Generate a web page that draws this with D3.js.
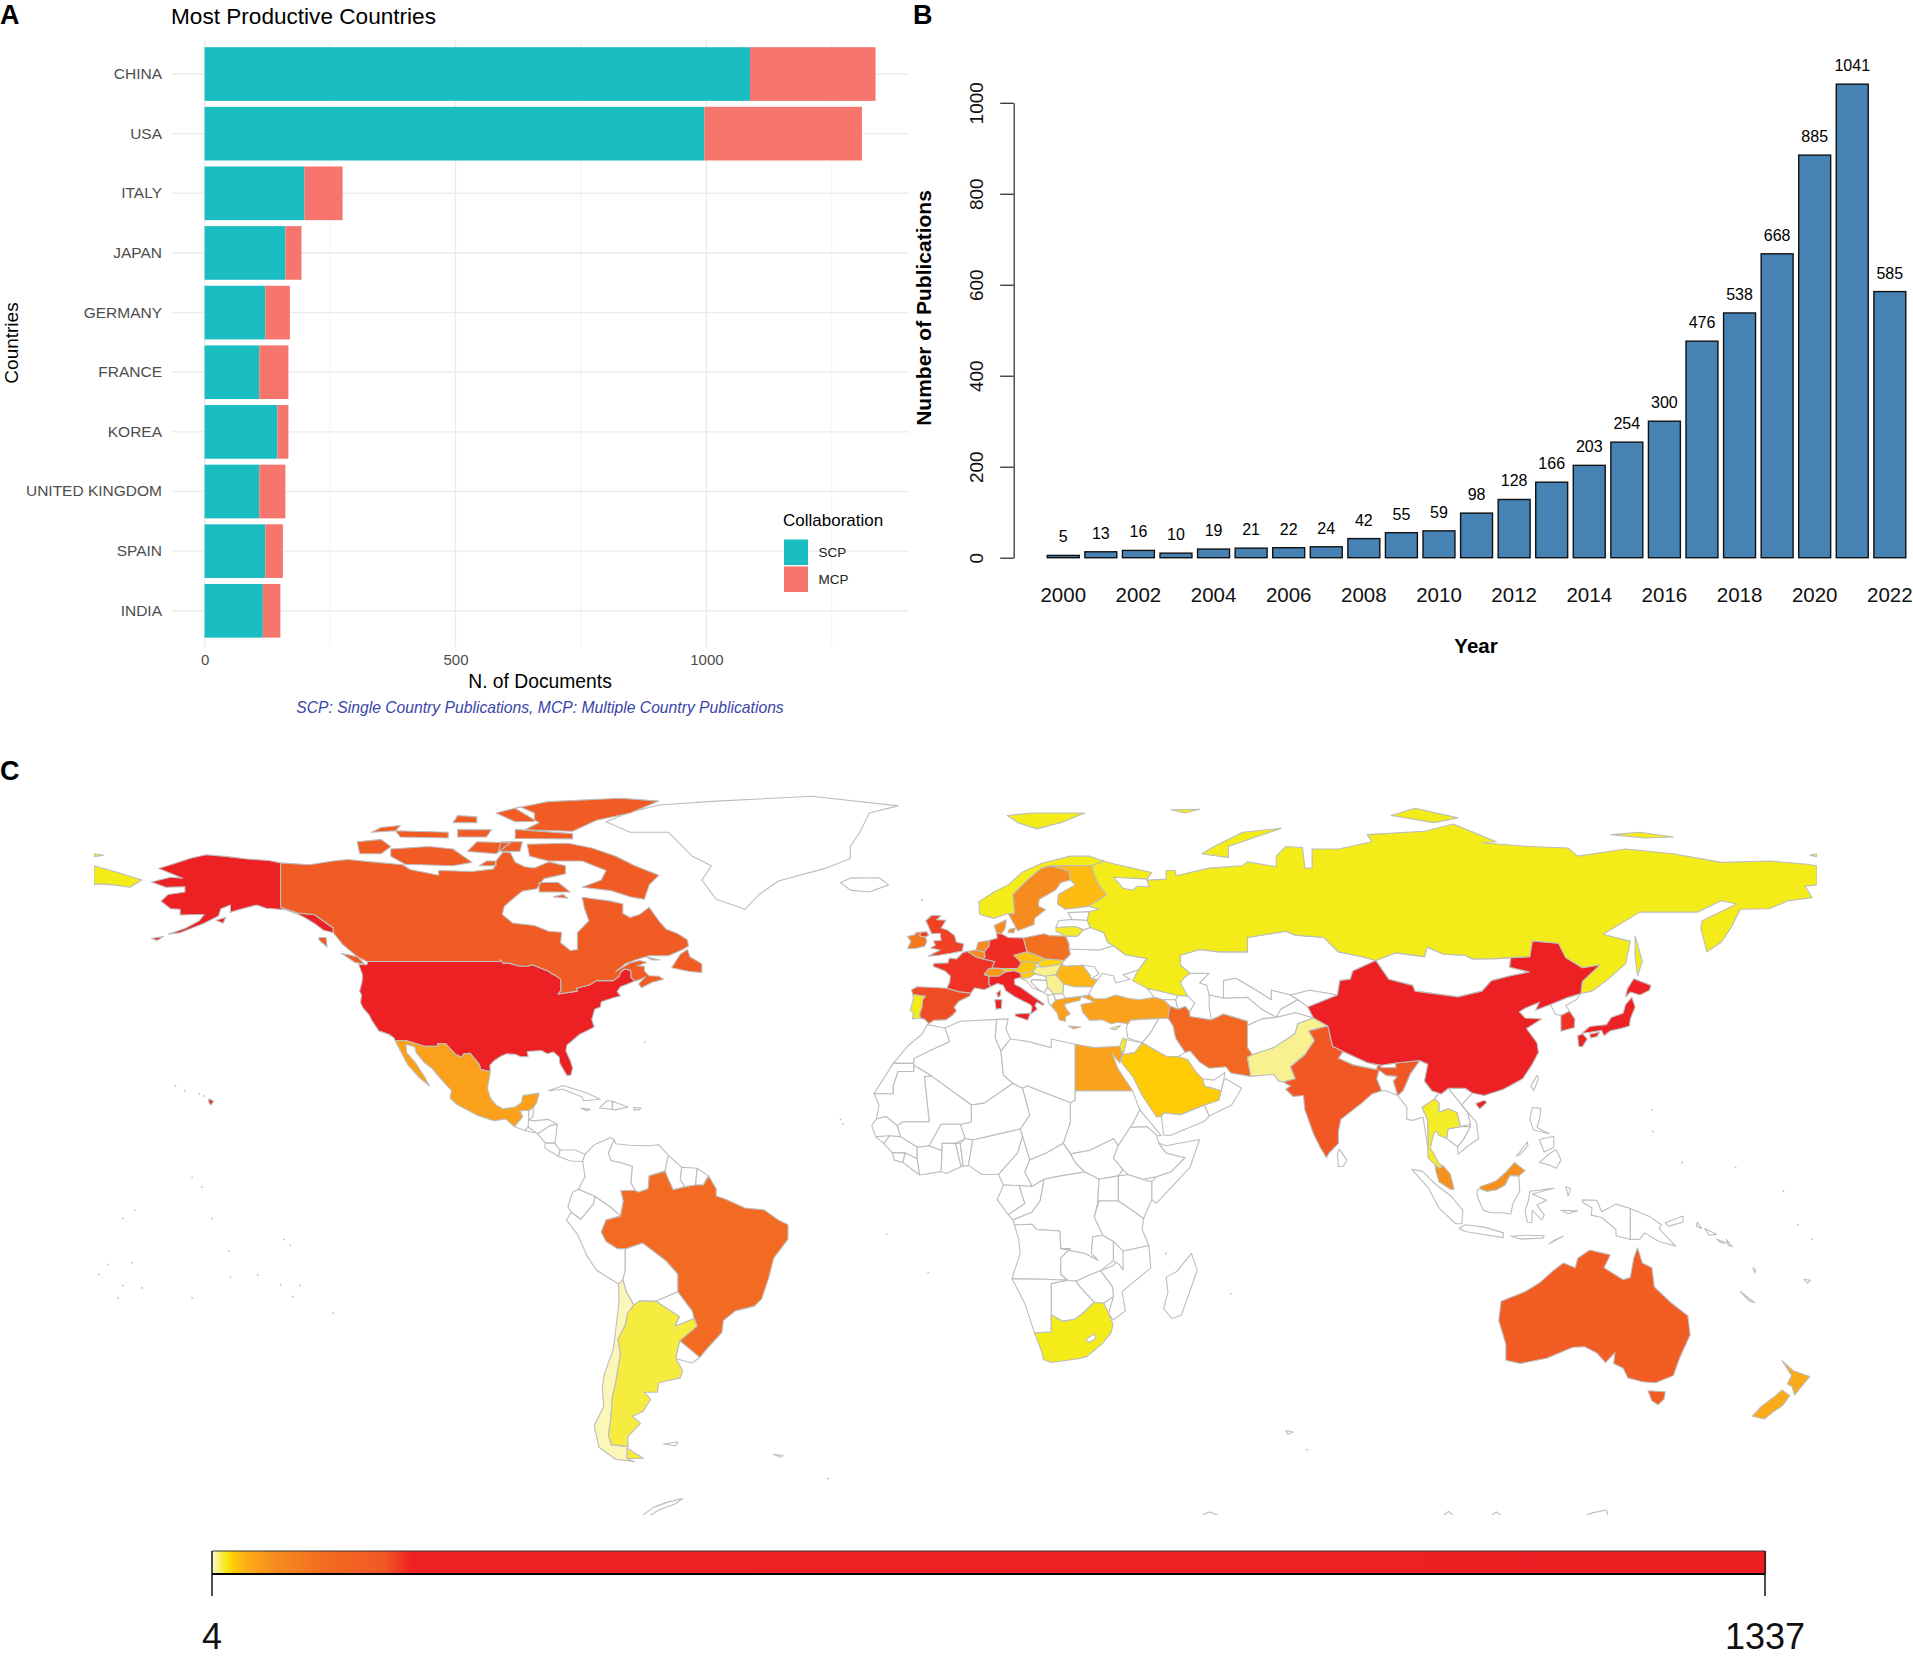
<!DOCTYPE html>
<html>
<head>
<meta charset="utf-8">
<script src="https://cdn.jsdelivr.net/npm/d3@7"></script>
<style>
  body { margin: 0; background: #fff; }
  svg { display: block; font-family: "Liberation Sans", Arial, sans-serif; }
</style>
</head>
<body>
<svg id="fig" width="1913" height="1657"></svg>
<script>
// panel A
const countries = ["CHINA","USA","ITALY","JAPAN","GERMANY","FRANCE","KOREA","UNITED KINGDOM","SPAIN","INDIA"];
const scpDocs = [1087,996,199,161,121,109,145,109,121,116];
const mcpDocs = [250,314,76,32,49,58,22,52,35,35];

// panel B
const years = d3.range(2000, 2023);
const pubs = [5,13,16,10,19,21,22,24,42,55,59,98,128,166,203,254,300,476,538,668,885,1041,585];

// panel C, documents per country
const countryValues = {
  USA:1310, China:1337, Italy:275, Japan:193, Germany:170, France:167, SouthKorea:167, UK:161, Spain:156, India:151,
  Canada:148, Australia:140, Iran:112, Brazil:105, Poland:95, Ireland:85, Netherlands:62, Belgium:60, Sweden:60, Denmark:58,
  Malaysia:55, Switzerland:50, Mexico:42, Turkey:40, Egypt:40, Greece:42, NewZealand:36, Romania:30, Finland:28, Czechia:26,
  Austria:24, SaudiArabia:22, Slovenia:22, Slovakia:20, Norway:15, Russia:15, SouthAfrica:15, Portugal:15, Thailand:14, Lithuania:14,
  Israel:14, Argentina:12, Pakistan:8, Hungary:8, Serbia:8, Cyprus:8, Chile:5
};
const rampValues = [4,8,12,15,22,30,40,60,95,115,150,175,1337];
const rampColors = ["#fdf7c5","#f8f18f","#f5ec3f","#f3ec19","#ffcb05","#fdb515","#faa21b","#f68b1f","#f37021","#f26522","#f15a24","#ee2224","#ed2024"];

// rough country outlines, lon/lat rings
const countryShapes = {
  Greenland:[[[-73,78.2],[-68,76],[-60,76],[-55,71],[-51,69],[-53,66],[-50,62],[-44,59.9],[-41,63],[-37,65.8],[-27,68.5],[-22,70.5],[-22,73],[-20,76],[-18,80],[-12,81.5],[-30,83.5],[-50,82.5],[-62,81.7],[-68,80.2]]],
  Iceland:[[[-24,65.5],[-22,66.4],[-16,66.5],[-14,65],[-18,63.5],[-22,63.9]]],
  Guatemala:[[[-92.2,14.5],[-90.5,16.5],[-91,17.8],[-89.1,17.9],[-89.2,15.9],[-88.2,15.7],[-89.3,14.4],[-90,13.7]]],
  Belize:[[[-89.1,17.9],[-88.2,18.5],[-88.3,16.5],[-89.2,15.9]]],
  Honduras:[[[-89.2,15.9],[-88.2,15.7],[-85,16],[-83.2,15],[-84.7,14.7],[-87.3,13],[-87.8,13.4],[-89.3,14.4]]],
  Salvador:[[[-90,13.7],[-89.3,14.4],[-87.8,13.4],[-88,13.2]]],
  Nicaragua:[[[-87.3,13],[-84.7,14.7],[-83.2,15],[-83.7,11],[-85.7,11.1]]],
  CostaRica:[[[-85.7,11.1],[-83.7,11],[-82.6,9.6],[-83,8.3],[-85.8,10]]],
  Panama:[[[-83,8.3],[-82.6,9.6],[-79.5,9.6],[-77.4,8.7],[-77.9,7.2],[-80.4,7.3],[-81.7,7.8]]],
  Cuba:[[[-85,22],[-82,23.1],[-77,21.5],[-74.2,20.2],[-77.7,19.9],[-78,20.7],[-82,22.3]]],
  Haiti:[[[-74.4,18.4],[-72.8,19.9],[-71.7,19.8],[-71.7,18.1]]],
  Dominican:[[[-71.7,19.8],[-68.4,18.6],[-71,18],[-71.7,18.1]]],
  Jamaica:[[[-78.3,18.4],[-76.3,18.1],[-77,17.8]]],
  PuertoRico:[[[-67.2,18.5],[-65.7,18.4],[-66,18],[-67.2,18]]],
  Colombia:[[[-77.9,7.2],[-77.4,8.7],[-75.5,10.7],[-72,12.2],[-71.3,11.8],[-72.5,9],[-72,7.4],[-70,7],[-67.5,6.2],[-67.8,2.8],[-67,1.2],[-69.9,1.1],[-69.4,-1],[-70,-4.2],[-72,-2.4],[-75.3,-0.1],[-78.8,1.4],[-77.4,4]]],
  Venezuela:[[[-71.3,11.8],[-71,10.9],[-68,10.6],[-64,10.5],[-62,10.7],[-60,8.5],[-60.7,5.2],[-64,4.2],[-64.2,1.5],[-66.3,0.8],[-67,1.2],[-67.8,2.8],[-67.5,6.2],[-70,7],[-72,7.4],[-72.5,9]]],
  Guyana:[[[-60,8.5],[-57.2,6],[-57.5,3.4],[-56.5,1.9],[-59,1.3],[-60,3.5],[-60.7,5.2]]],
  Suriname:[[[-57.2,6],[-54,5.8],[-54.3,2.3],[-56.5,1.9],[-57.5,3.4]]],
  FrGuiana:[[[-54,5.8],[-51.6,4.2],[-52.7,2.3],[-54.3,2.3]]],
  Ecuador:[[[-78.8,1.4],[-75.3,-0.1],[-75.6,-1.6],[-78.3,-4.9],[-80.3,-3.4],[-81,-2.2],[-80,0.8]]],
  Peru:[[[-80.3,-3.4],[-78.3,-4.9],[-75.6,-1.6],[-75.3,-0.1],[-72,-2.4],[-70,-4.2],[-73,-5],[-74,-7.5],[-73,-9.5],[-70.6,-11],[-69,-11],[-69,-15.5],[-69.5,-17.5],[-70.4,-18.4],[-75,-15.5],[-77,-12.5],[-79,-8],[-81.3,-5]]],
  Bolivia:[[[-69,-11],[-65.4,-9.8],[-60.5,-13.5],[-58,-16.3],[-58,-20],[-62.6,-22],[-66,-21.9],[-67.2,-22.8],[-68.8,-20],[-69.5,-17.5],[-69,-15.5]]],
  Paraguay:[[[-58,-20],[-55,-24],[-54.6,-25.6],[-58.6,-27.2],[-57.7,-25.2],[-62.6,-22]]],
  Uruguay:[[[-58.4,-33.5],[-57.6,-30.2],[-53.4,-33.7],[-55,-34.9],[-58.4,-34]]],
  Falklands:[[[-61,-51.8],[-58,-51.4],[-58.5,-52.2]]],
  SouthGeorgia:[[[-38,-54],[-36,-54.2],[-36.5,-54.6]]],
  Antarctica:[[[-57,-63.2],[-60,-63.9],[-63,-65],[-66.5,-67.5],[-65,-67.5],[-62,-65.6],[-58.5,-64.3]],[[50,-67.5],[53,-66],[57,-67.5]],[[101,-67.5],[103,-65.9],[105,-67.5]],[[111,-67.5],[113,-66],[115,-67.5]],[[130,-67.5],[133,-66.2],[136,-65.6],[136.5,-67.5]]],
  Morocco:[[[-5.9,35.8],[-2.2,35.1],[-1.2,32.2],[-5,30.5],[-8.7,28.7],[-8.7,27.7],[-13,27.7],[-9.8,31.5],[-7,33.8]]],
  WSahara:[[[-8.7,27.7],[-13,27.7],[-17,21.4],[-13,21.3],[-13,23],[-12,26],[-8.7,26]]],
  Algeria:[[[-2.2,35.1],[1,36.5],[8.6,36.9],[8.3,33],[9.5,30.3],[10,25.3],[12,23.5],[6,19.4],[3.3,19],[-4.9,25],[-8.7,27.3],[-8.7,28.7],[-5,30.5],[-1.2,32.2]]],
  Tunisia:[[[8.6,36.9],[11,37],[10.5,35],[11.5,32.8],[9.5,30.3],[8.3,33]]],
  Libya:[[[11.5,32.8],[15,32.3],[20,31],[20,32.8],[25,31.7],[25,20],[24,19.5],[15,23],[14,22.5],[12,23.5],[10,25.3],[9.5,30.3]]],
  Sudan:[[[25,22],[37,22],[38.5,18],[37,15],[36.5,14.3],[34,10.5],[33,12],[32.5,11.7],[28,9.5],[24,8.8],[22.5,11],[24,15.5],[24,19.5],[25,20]]],
  SouthSudan:[[[24,8.8],[28,9.5],[32.5,11.7],[33,12],[34,10.5],[33,7.9],[35,5.5],[34,4.2],[30,3.5],[27,5],[25,7]]],
  Eritrea:[[[37,15],[38.5,18],[43,12.6],[42,12.7],[40,14.5],[36.5,14.3]]],
  Ethiopia:[[[36.5,14.3],[40,14.5],[42,12.7],[42.5,11],[44,9],[48,8],[45,5],[42,4],[39,3.5],[36,4.5],[35,5.5],[33,7.9],[34,10.5]]],
  Somalia:[[[42.5,11],[44,10.5],[51,11.8],[49,6],[42,-1.5],[41,-0.8],[41,3],[42,4],[45,5],[48,8],[44,9]]],
  Chad:[[[15,23],[24,19.5],[24,15.5],[22.5,11],[19,9],[15.5,7.5],[14,12.5],[13.5,14],[15.5,16.9],[14,22.5]]],
  Niger:[[[12,23.5],[14,22.5],[15.5,16.9],[13.5,14],[11,13.4],[3.6,11.7],[2,12],[1,15],[3.3,15.4],[3.3,19],[6,19.4]]],
  Mali:[[[-12.2,14.7],[-11,15.5],[-5.5,15.5],[-6.5,25],[-4.9,25],[3.3,19],[3.3,15.4],[1,15],[-3,15],[-5.5,10.5],[-8,10.2],[-11.5,12.4]]],
  Mauritania:[[[-17,21.4],[-13,21.3],[-13,23],[-12,26],[-8.7,26],[-8.7,27.3],[-4.9,25],[-6.5,25],[-5.5,15.5],[-11,15.5],[-12.2,14.7],[-14.5,16.6],[-16.5,16.1],[-16,19]]],
  Senegal:[[[-16.5,16.1],[-14.5,16.6],[-12.2,14.7],[-11.5,12.4],[-16.7,12.4],[-17.5,14.7]]],
  GuineaBissau:[[[-16.7,12.4],[-13.7,12.6],[-15,11]]],
  Guinea:[[[-15,11],[-13.7,12.6],[-11.5,12.4],[-8,10.2],[-8,7.8],[-10.5,9],[-13.2,9]]],
  SierraLeone:[[[-13.2,9],[-10.5,9],[-11,7],[-12.8,7.5]]],
  Liberia:[[[-11,7],[-10.5,9],[-8,7.8],[-7.5,4.4]]],
  IvoryCoast:[[[-8,10.2],[-5.5,10.5],[-2.8,9.5],[-3,5.1],[-7.5,4.4],[-8,7.8]]],
  Burkina:[[[-5.5,10.5],[-3,15],[1,15],[2,12],[0,11],[-2.8,11],[-2.8,9.5]]],
  Ghana:[[[-2.8,11],[0,11],[1.2,6.1],[-2,4.7],[-3,5.1],[-2.8,9.5]]],
  Togo:[[[0,11],[1,11],[1.6,6.2],[1.2,6.1]]],
  Benin:[[[1,11],[2,12],[3.6,11.7],[2.7,6.4],[1.6,6.2]]],
  Nigeria:[[[2.7,6.4],[3.6,11.7],[11,13.4],[13.5,14],[14,12.5],[13,9],[9,4.5],[5.5,4.5]]],
  Cameroon:[[[9,4.5],[13,9],[14,12.5],[15.5,7.5],[14.5,5],[16,2],[10,2.3]]],
  CAR:[[[15.5,7.5],[19,9],[22.5,11],[24,8.8],[25,7],[27,5],[22,4.2],[18.5,3.5],[16,2],[14.5,5]]],
  Gabon:[[[9.5,1],[10,2.3],[13.3,2.2],[14.5,-1.6],[11,-3.9],[8.7,-0.7]]],
  Congo:[[[13.3,2.2],[16,2],[18.5,3.5],[17.7,-1],[16,-3.4],[12,-5],[11,-3.9],[14.5,-1.6]]],
  DRC:[[[18.5,3.5],[22,4.2],[27,5],[30,3.5],[29.7,-1.4],[29,-4.4],[30.8,-8.2],[28.7,-8.5],[28.4,-12],[29.8,-13.4],[27,-12],[22,-11],[21.8,-7.3],[17,-7],[16,-5.9],[12.3,-6],[12,-5],[16,-3.4],[17.7,-1]]],
  Angola:[[[12.3,-6],[16,-5.9],[17,-7],[21.8,-7.3],[22,-11],[24,-11],[22,-13],[22,-16.3],[23.4,-17.6],[18.5,-17.4],[11.8,-17.3],[13.5,-12],[13.2,-9]]],
  Zambia:[[[22,-11],[27,-12],[29.8,-13.4],[28.4,-12],[28.7,-8.5],[30.8,-8.2],[33,-9.5],[33,-13.5],[30.3,-15.6],[28,-16.5],[25.2,-17.8],[23.4,-17.6],[22,-16.3],[22,-13],[24,-11]]],
  Tanzania:[[[30,-1],[34,-1],[37.7,-3.5],[39.3,-4.7],[39,-7],[40.4,-10.4],[35,-11.5],[33,-9.5],[30.8,-8.2],[29,-4.4]]],
  Kenya:[[[34,4.2],[36,4.5],[39,3.5],[41,3],[41,-0.8],[39.3,-4.7],[37.7,-3.5],[34,-1]]],
  Uganda:[[[30,3.5],[34,4.2],[34,-1],[30,-1],[29.7,-1.4]]],
  Mozambique:[[[40.4,-10.4],[40.8,-15],[36,-19],[34.8,-20],[35.5,-24],[32.9,-25.9],[32,-24.5],[33,-21],[32.8,-19],[30.3,-15.6],[33,-14.5],[35,-11.5]]],
  Malawi:[[[33,-9.5],[35,-11.5],[35,-15.5],[34.3,-14.4],[33,-13.5]]],
  Zimbabwe:[[[25.2,-17.8],[28,-16.5],[30.3,-15.6],[32.8,-19],[33,-21],[31,-22.4],[29,-22.2],[26,-19]]],
  Botswana:[[[20,-18.3],[23.4,-17.6],[25.2,-17.8],[26,-19],[29,-22.2],[26.5,-24.6],[25,-25.7],[22.5,-26.2],[20,-24.8],[20,-22]]],
  Namibia:[[[11.8,-17.3],[18.5,-17.4],[23.4,-17.6],[20,-18.3],[20,-24.8],[20,-28.4],[16.5,-28.6],[14.5,-22.5]]],
  Madagascar:[[[49.3,-12],[50.5,-15.5],[47.2,-24.9],[45.2,-25.6],[43.5,-23.5],[44.4,-20],[44,-17],[46.3,-15.7]]],
  Ukraine:[[[22.1,48.4],[22.7,49.2],[24,50.5],[23.7,51.6],[30,51.4],[33,52.3],[35.5,50.4],[40,49.6],[38.2,47.2],[35,46.2],[36.5,45.3],[33.5,44.5],[33,46],[30.7,46.5],[29.7,45.2],[28.2,45.4],[28.2,46],[26.6,48.2],[23,48]]],
  Moldova:[[[26.6,48.2],[29,47.9],[30,46.4],[28.2,45.4],[28.2,46]]],
  Belarus:[[[23.7,51.6],[23.7,52.6],[23,54.3],[25.5,54.3],[26.7,55.6],[28.2,56.1],[31,55],[31.8,53],[33,52.3],[30,51.4]]],
  Latvia:[[[21,56.1],[21.5,57.5],[24.3,57.8],[27.5,57.6],[28.2,56.1],[26.7,55.6],[25,56.3]]],
  Estonia:[[[23.5,59.2],[28,59.4],[27.5,57.6],[24.3,57.8]]],
  Croatia:[[[13.7,45.5],[15.3,45.6],[16.6,46.4],[18.8,45.9],[19,45],[16,45.2],[15.8,44.7],[17.5,43],[18.5,42.5],[16,43.5],[14.8,45],[14.2,45.2]]],
  Bosnia:[[[16,45.2],[19,45],[19.3,43.6],[18.5,42.5],[17.5,43],[15.8,44.7]]],
  Montenegro:[[[19.3,43.6],[20.5,42.2],[19.3,41.9],[18.5,42.5]]],
  Albania:[[[19.3,41.9],[20.5,42.2],[20.9,40.9],[20,39.7],[19.4,40.4]]],
  Macedonia:[[[20.5,42.2],[22.4,42.3],[23,41.3],[20.9,40.9]]],
  Bulgaria:[[[22.6,44.3],[25,43.7],[28.6,43.7],[27.8,42],[26.3,41.7],[23,41.3],[22.4,42.3]]],
  Iraq:[[[42.4,37.1],[44.4,37.2],[45.5,35.5],[46,33],[48,30],[46.5,29.1],[44,29.2],[39,32],[41,34.5]]],
  Syria:[[[36,36],[36.7,36.8],[42.4,37.1],[41,34.5],[39,32],[36,33],[35.7,35]]],
  Jordan:[[[35.7,32.7],[39,32],[37.5,30],[35,29.5],[35.5,31.5]]],
  Yemen:[[[43,16.6],[43.5,12.7],[45,12.7],[52,15.6],[53,16.7],[52,19],[47,17],[43.5,17.4]]],
  Oman:[[[55.5,22],[55,20],[52,19],[53,16.7],[57.7,19],[59.8,22.5],[56.5,24.5],[56,24]]],
  UAE:[[[51.6,24.5],[52,23],[55.5,22],[56,24],[56.3,25.8],[54,24.2]]],
  Kazakhstan:[[[47,50.3],[51,51.5],[55,51],[61,51],[61,54],[69,55.3],[71,54.5],[77,54],[80,51],[85,50],[87.8,49.2],[83,47],[82.5,45.3],[80.3,45],[79.8,42],[74,43],[70,42],[66,43],[66,41],[62,43.5],[58.5,45.5],[56,45],[56,41.3],[53,42],[52.5,44],[51,44.5],[53,46.5],[49,46.5],[47,48.2]]],
  Uzbekistan:[[[56,45],[58.5,45.5],[62,43.5],[66,41],[66,43],[70,42],[71.5,41],[68,39],[67,37.3],[64,39],[61,41.5],[56,41.3]]],
  Turkmenistan:[[[53,42],[56,41.3],[61,41.5],[64,39],[67,37.3],[64,37],[61,35.6],[61,36.5],[56,38],[53.5,36.8],[53,39.5]]],
  Kyrgyzstan:[[[70,42],[74,43],[79.8,42],[73.6,39.5],[71.5,41]]],
  Tajikistan:[[[68,39],[71.5,41],[73.6,39.5],[74.8,37.2],[71,38.3],[67,37.3]]],
  Afghanistan:[[[61,35.6],[64,37],[67,37.3],[71,38.3],[74.8,37.2],[71.5,36],[71,34],[69.3,32.8],[66.5,31],[62,29.5],[61,31]]],
  Mongolia:[[[87.8,49.2],[92,50.8],[98,50],[98.5,52],[102,50.5],[106.5,50.3],[108,49.5],[113,49.6],[116,49.8],[115.8,47.8],[119.9,46.8],[116,46],[112,45],[110,42.8],[105,41.6],[96,42.8],[95.5,44],[90.5,45.3]]],
  Georgia:[[[40,43.4],[43.5,42.6],[46.5,41.9],[46,41],[43.4,41],[41.5,41.5]]],
  Armenia:[[[43.4,41],[46,41],[46.5,39],[44.8,39.7]]],
  Azerbaijan:[[[46,41],[46.5,41.9],[48.5,41.8],[50,40.3],[48.9,38.5],[48,39.6],[46.5,39]]],
  NorthKorea:[[[130.7,42.3],[128,41.5],[124.3,40],[125.3,38],[126.5,37.7],[128.3,38.6],[127.5,39.8],[129.7,41]]],
  Taiwan:[[[120.2,23],[121.5,25.2],[121.8,24.5],[120.8,22]]],
  Bangladesh:[[[88,24.5],[88.5,26.3],[90,25.2],[92.3,25],[91.5,24],[92.4,21],[90,22],[89,22]]],
  Nepal:[[[81,30.2],[86,27.9],[88.2,27.3],[88,26.4],[83,27.4],[80,28.8]]],
  Bhutan:[[[88.9,27.3],[92,27.8],[92,26.8],[88.9,26.8]]],
  SriLanka:[[[79.8,8.9],[80.2,9.8],[81.8,7.5],[81,6.2],[80,6.1]]],
  Myanmar:[[[92.4,21],[93.5,22],[95,25.5],[97,28.3],[98.7,27.5],[98,24],[99.5,22],[101,21.5],[100.1,20.3],[97.5,18.5],[98.6,16],[98.8,11.7],[98.7,10],[97.7,16.5],[95.5,15.8],[94.3,16],[94.3,18.5]]],
  Laos:[[[100.1,20.3],[101,21.5],[101.5,21.3],[103,22.5],[105,20],[107,17.5],[107.6,15],[105.5,14.5],[104.8,17.4],[103,18.2],[101,17.5],[101,19.5]]],
  Vietnam:[[[103,22.5],[106.5,22.5],[108,21.5],[105.7,19],[108.8,15.5],[109.3,12],[107,10.4],[105,8.7],[104.9,10.3],[106,11.6],[107.6,14.5],[107.6,15],[107,17.5],[105,20]]],
  Cambodia:[[[102.9,14],[105.5,14.5],[107.6,14.5],[106,11.6],[104.9,10.3],[102.6,12]]],
  Indonesia:[[[109,1.3],[109.6,1.5],[111,1],[113,1.3],[114.8,2.3],[115.8,4.3],[117.7,4.2],[117.9,1],[116.5,-1.5],[116,-3.8],[114.5,-3.5],[111.8,-3.5],[110.2,-2.9],[109,0]],
    [[95.3,5.6],[97.5,5.2],[100.5,2.3],[103.5,0],[106,-3],[105.8,-5.8],[104.5,-5.8],[101,-2.5],[98.8,1.7]],
    [[105.2,-6.8],[106.5,-6],[110.5,-6.5],[114.5,-7.7],[114.4,-8.7],[110,-8],[106.5,-7.4]],
    [[119.5,-5.5],[120.4,-5.6],[120.5,-3],[122.5,-5],[123,-4],[121.5,-1.9],[123.5,-0.9],[120.5,0.4],[125,1.6],[120,1],[119.7,-1],[119,-3]],
    [[131,-0.8],[134,-0.9],[135,-3.3],[138,-1.7],[141,-2.6],[141,-9.1],[138,-8.3],[138,-7],[135,-4.5],[132.8,-4],[133,-2.5],[131,-1.3]],
    [[116,-8.4],[119,-8.2],[123,-8.3],[122.7,-8.8],[118,-9]],[[124,-10],[127,-8.4],[125,-9.3]],[[127.5,2],[128.5,1.5],[128,0]],[[126.5,-3],[130,-3.1],[128,-3.7]]],
  PNG:[[[141,-2.6],[145,-4.3],[147.5,-6],[147,-6.8],[150.5,-10.5],[147,-9.5],[144,-7.7],[143,-9],[141,-9.1]],[[148.3,-5.6],[152,-4.2],[152,-5.5],[149,-6.3]],[[155,-5.5],[155.9,-6.8],[154.8,-6.3]]],
  Philippines:[[[120.5,18.5],[122.3,18.3],[122,16],[121.5,14.3],[124,13],[120.8,13.8],[120,16]],[[122,7],[123.8,8.6],[125.5,9.7],[126.5,7.5],[125.5,5.8],[124,6.5]],[[122,11.8],[125,12.5],[125,10.2],[123,9.2]],[[117.2,8.3],[119.5,11.3],[119.6,10.5],[118,8.7]]],
  Solomons:[[[156.5,-6.8],[159,-8],[157.5,-8.2]],[[159,-9],[161,-9.8],[160,-9.8]],[[161,-9],[162.3,-10.6],[161.5,-10.3]]],
  Vanuatu:[[[166.6,-15],[167.2,-15.5],[167,-16]]],
  NewCaledonia:[[[164,-20],[167,-22.3],[165.8,-21.9]]],
  Fiji:[[[177.3,-17.4],[178.6,-17.6],[178,-18.2]]],
  Kerguelen:[[[69,-49],[70.5,-49.3],[69.5,-49.8]]],

  USA:[[[-124.7,48.4],[-123,48.3],[-122.8,49],[-95.2,49],[-95.1,49.4],[-94.6,48.7],[-93,48.6],[-91.5,48.1],[-89.5,48],[-88.4,48.3],[-84.9,46.9],[-84.5,46.5],[-83.6,46.1],[-82.5,45.3],[-82.4,43],[-83,42.2],[-79,42.8],[-79.2,43.4],[-76.5,44.1],[-75,45],[-71.5,45],[-70.3,45.9],[-70,46.7],[-69.2,47.4],[-68.3,47.3],[-67.8,47],[-67.8,45.7],[-67,44.9],[-68.5,44.3],[-70,43.7],[-70.7,42.7],[-70,41.8],[-71.5,41.4],[-74,40.6],[-74.2,39.5],[-75.4,39],[-75.9,37.2],[-76,36.9],[-75.5,35.3],[-77,34.5],[-78.5,33.8],[-79.9,32.6],[-81.2,31.5],[-81.4,30.3],[-80.5,28.3],[-80,26.7],[-80.4,25.2],[-81.2,25.2],[-81.8,26.2],[-82.7,27.8],[-82.8,29],[-84,30.1],[-85.3,29.7],[-86.5,30.4],[-88,30.3],[-89.5,30.2],[-89.3,29.1],[-90.8,29.1],[-92,29.6],[-93.8,29.7],[-95,29.2],[-96.5,28.2],[-97.3,27.3],[-97.2,26],[-99.2,26.4],[-99.5,27.5],[-101.4,29.8],[-102.7,29.7],[-103.2,29],[-104.5,29.6],[-106.5,31.8],[-108.2,31.8],[-108.2,31.3],[-111,31.3],[-114.8,32.5],[-117.1,32.5],[-117.3,33],[-118.4,33.8],[-120.5,34.5],[-121.9,36.6],[-122.5,37.8],[-123.8,39.3],[-124.3,40.4],[-124.1,42],[-124.5,42.8],[-124,44.7],[-123.9,46.2]],
    [[-141,69.6],[-143.5,70.1],[-148,70.4],[-152,70.9],[-156.6,71.3],[-160,70.5],[-163,69.5],[-166.5,68.4],[-163,67],[-161.5,66.4],[-164,66.6],[-168,65.6],[-165,64.5],[-161,64.6],[-161,63.5],[-164.5,63],[-166,61.6],[-164,60],[-162,59.9],[-162,58.7],[-158,58.8],[-157,58.8],[-158,57.5],[-161,55.9],[-164.5,54.7],[-162,55],[-157,57],[-154,58.5],[-153.5,60],[-151.5,60.8],[-151.5,59.3],[-149,60],[-146,60.8],[-144,60.1],[-140,59.8],[-137.5,58.9],[-136,58.2],[-134,57],[-132,55.5],[-130,55],[-130,56],[-134,58.8],[-137.5,59.1],[-141,60.3]],
    [[-156,20.3],[-155,19.8],[-155.6,19],[-156,19.6]],[[-168,53.8],[-165.5,54.2],[-166.8,53.4]],[[-154.5,57.6],[-152.5,58.2],[-153,57]]],
  Canada:[[[-141,69.6],[-141,60.3],[-137.5,59.1],[-134,58.8],[-130,56],[-130,55],[-128,52.5],[-125,50],[-123,49],[-95.2,49],[-95.1,49.4],[-94.6,48.7],[-93,48.6],[-91.5,48.1],[-89.5,48],[-88.4,48.3],[-84.9,46.9],[-84.5,46.5],[-83.6,46.1],[-82.5,45.3],[-82.4,43],[-83,42.2],[-79,42.8],[-79.2,43.4],[-76.5,44.1],[-75,45],[-71.5,45],[-70.3,45.9],[-70,46.7],[-69.2,47.4],[-68.3,47.3],[-67.8,47],[-67.8,45.7],[-67,44.9],[-66,45.2],[-64.8,45.8],[-66.2,44.3],[-65.6,43.5],[-63.5,44.6],[-61,45.3],[-62,45.9],[-64,46],[-65,47],[-65,48],[-66.5,48.1],[-64.5,48.8],[-66,49.2],[-68,48.7],[-71,46.9],[-69,48.5],[-67,49.3],[-64,50.2],[-60,50.2],[-57,51.5],[-55.8,52.2],[-56,53.5],[-58,54.8],[-60.5,55.8],[-62,57.5],[-64,60.3],[-66,58.8],[-68,58.2],[-69.5,59],[-69.5,61],[-72,61.6],[-78,62.4],[-77.5,60],[-76.6,57.5],[-79,55],[-79,51.5],[-80.5,51.3],[-82.5,52.9],[-82.3,55.1],[-85,55.3],[-88,56.5],[-92.5,57],[-94.7,58.8],[-94.3,60.5],[-92,62.5],[-90.5,63.7],[-87.5,64.2],[-86,66.3],[-81.5,67.3],[-81.5,69],[-85,69.8],[-88,68.5],[-90,68.8],[-92,69.7],[-93,71.7],[-94.5,71.9],[-96,70],[-96.5,68.3],[-101,67.8],[-108,68],[-108,67],[-114,68.2],[-115.5,69.2],[-122,69.8],[-127,70.3],[-130,70],[-135,69.2]],
    [[-65,62],[-68,62.5],[-72,63.8],[-78,64.5],[-74,66],[-73,68],[-78,70],[-85,70],[-89,71],[-89.5,73.5],[-81,73.7],[-76,72.7],[-71,71],[-67,69],[-62,67],[-64,65]],
    [[-105,69],[-101,69.7],[-105,72.5],[-110,73],[-118,72.5],[-118,71],[-115,69.3]],
    [[-124.5,71.5],[-120,71.5],[-118,73],[-120,74.5],[-125,74]],
    [[-90,76.5],[-80,76.2],[-75,78.5],[-68,80],[-62,82.5],[-70,83.1],[-85,82.4],[-92,81],[-87,78]],
    [[-92,74.7],[-80,74.6],[-80,75.7],[-92,76.6]],
    [[-88,78.3],[-92,78.2],[-96,80],[-91,81.3],[-88,80]],
    [[-116,75],[-106,74.8],[-106,76],[-117,76.3]],
    [[-102,72],[-96,71.5],[-93,73.8],[-100,74]],
    [[-104,75],[-98,75],[-97,76.5],[-104,76.6]],
    [[-87,63.5],[-80.5,63.5],[-83,65.5],[-87,65.5]],
    [[-95.5,72],[-91,72],[-90.5,74],[-95,74]],
    [[-99.5,69],[-96,69],[-96,70],[-98,70]],
    [[-122,76],[-117,76.3],[-116,77.4],[-120,77]],
    [[-105,78],[-100,78],[-100,79.2],[-104,79.5]],
    [[-84,62.5],[-81,62.2],[-82,63]],
    [[-59.3,47.7],[-55.5,46.9],[-53,46.7],[-53,48.5],[-55.5,50],[-56,51.5],[-57.5,50.5]],
    [[-128.3,50.7],[-125,50],[-123.4,48.4],[-125.5,48.8]],
    [[-133,54],[-131.5,54],[-131.3,52],[-133,53.5]],
    [[-64.5,49.9],[-61.7,49.3],[-63.5,49.3]]],
  Mexico:[[[-117.1,32.5],[-114.8,32.5],[-111,31.3],[-108.2,31.3],[-108.2,31.8],[-106.5,31.8],[-104.5,29.6],[-103.2,29],[-102.7,29.7],[-101.4,29.8],[-99.5,27.5],[-99.2,26.4],[-97.2,26],[-97.8,22.5],[-97.2,20.5],[-96,19],[-94.5,18.2],[-92,18.6],[-90.7,19.5],[-90.4,21],[-87,21.5],[-87.5,19.5],[-88.2,18.5],[-89.1,17.9],[-91,17.8],[-90.5,16.5],[-92.2,14.5],[-94,16.1],[-96.5,15.7],[-100,16.9],[-104,19],[-105.6,20.4],[-105.3,22],[-108,25],[-109.4,26.7],[-111,27.9],[-112.7,30],[-113,31.2],[-114.8,31.7],[-114.7,30],[-112.8,27.8],[-111,25],[-109.9,23],[-112,24.7],[-114.5,27.5],[-115.8,30]]],
  Brazil:[[[-51.6,4.2],[-50,1.5],[-50,0],[-48,-0.7],[-44,-2.5],[-40,-2.9],[-37,-5],[-35,-6],[-35,-9],[-38,-13],[-39,-17],[-40.5,-21.5],[-42,-23],[-46,-24],[-48.5,-26],[-48.8,-28.5],[-52,-32],[-53.4,-33.7],[-57.6,-30.2],[-54,-27.2],[-54.6,-25.6],[-55,-24],[-58,-20],[-58,-16.3],[-60.5,-13.5],[-65.4,-9.8],[-69,-11],[-70.6,-11],[-73,-9.5],[-74,-7.5],[-73,-5],[-70,-4.2],[-69.4,-1],[-69.9,1.1],[-67,1.2],[-66.3,0.8],[-64.2,1.5],[-64,4.2],[-60.7,5.2],[-60,3.5],[-59,1.3],[-56.5,1.9],[-54.3,2.3],[-52.7,2.3]]],
  Chile:[[[-70.4,-18.4],[-69.5,-17.5],[-68.8,-20],[-67.2,-22.8],[-68.5,-24.5],[-69,-27],[-70.5,-30],[-70,-33],[-70.5,-36],[-71,-39],[-71.7,-42],[-72,-46.5],[-72.5,-50],[-71.9,-52],[-68.4,-52.3],[-68.6,-52.7],[-68.6,-54.9],[-67,-55.5],[-71,-55],[-74.5,-52.5],[-75.5,-48],[-73.5,-44],[-73.8,-40],[-73.3,-37],[-71.5,-32],[-71,-28],[-70.3,-22]]],
  Argentina:[[[-66,-21.9],[-62.6,-22],[-57.7,-25.2],[-58.6,-27.2],[-54.6,-25.6],[-54,-27.2],[-57.6,-30.2],[-58.4,-33.5],[-58.4,-34],[-57,-36.5],[-57.5,-38],[-62,-39],[-62.3,-41],[-65,-41],[-63.7,-42.5],[-65.3,-45],[-67.5,-46],[-65.8,-47.5],[-68.5,-50.3],[-68.4,-52.3],[-71.9,-52],[-72.5,-50],[-72,-46.5],[-71.7,-42],[-71,-39],[-70.5,-36],[-70,-33],[-70.5,-30],[-69,-27],[-68.5,-24.5],[-67.2,-22.8]],[[-68.6,-52.7],[-65.2,-54.8],[-68.6,-54.9]]],
  Spain:[[[-9.2,43.1],[-8,43.7],[-3.5,43.5],[-1.8,43.4],[0.7,42.7],[3.2,42.4],[3,41.8],[0.7,40.7],[-0.3,39.4],[0.2,38.7],[-0.7,37.7],[-2,36.8],[-4.5,36.7],[-5.6,36],[-6.4,36.9],[-7.4,37.2],[-7.5,38],[-7,39.6],[-6.9,41],[-6.3,41.7],[-8.2,42],[-8.9,42.1]]],
  Portugal:[[[-8.9,42.1],[-8.2,42],[-6.3,41.7],[-6.9,41],[-7,39.6],[-7.5,38],[-7.4,37.2],[-9,37],[-8.8,38.3],[-9.5,38.8],[-8.8,41]]],
  France:[[[-1.8,43.4],[-1.2,44.7],[-1.1,46],[-2.2,47],[-4.7,48],[-4.5,48.6],[-1.6,48.7],[-1.3,49.7],[0.2,49.5],[1.6,50.9],[2.5,51.1],[4.2,50],[5.8,49.5],[8.2,49],[7.6,47.6],[6.9,47.4],[6,46.3],[7,45.9],[7,44.2],[7.5,43.8],[6,43.1],[4,43.5],[3.2,42.4],[0.7,42.7]],[[8.6,42.4],[9.4,43],[9.4,41.9],[8.9,41.5]]],
  Belgium:[[[2.5,51.1],[4.3,51.4],[6,51],[6.2,50],[5.8,49.5],[4.2,50]]],
  Netherlands:[[[4.3,51.4],[4.7,53],[7.1,53.4],[7,52.2],[6,51]]],
  Germany:[[[7.1,53.4],[8.7,53.9],[8.6,54.9],[9.6,54.8],[11,54],[14.2,53.9],[14.7,52],[15,51],[12.2,50.3],[13.8,48.7],[13,47.5],[9.6,47.5],[7.6,47.6],[8.2,49],[5.8,49.5],[6.2,50],[6,51],[7,52.2]]],
  Denmark:[[[8.6,54.9],[8.1,56.5],[10.6,57.7],[10.4,56],[9.6,54.8]],[[11.2,55.7],[12.5,56],[12.2,55],[11,55]]],
  Switzerland:[[[7.6,47.6],[9.6,47.5],[10.4,46.8],[9,45.9],[7,45.9],[6,46.3],[6.9,47.4]]],
  Italy:[[[7,44.2],[7,45.9],[9,45.9],[10.4,46.8],[12.3,47.1],[13.7,46.5],[13.7,45.7],[12.3,45.3],[12.4,44.2],[13.6,43.6],[16,41.9],[18.5,40.1],[18.3,39.8],[17,40.5],[16.6,39.8],[17.1,39],[15.7,38],[16,39.5],[15.6,40],[14,40.8],[12.3,41.7],[10.5,42.9],[10,44],[8.8,44.4],[7.5,43.8]],[[12.5,38],[15.6,38.2],[15.1,36.7],[12.5,37.6]],[[8.2,41],[9.7,41],[9.6,39.2],[8.5,39]]],
  UK:[[[-5.7,50.1],[-3.5,50.3],[-1,50.7],[1.4,51.2],[1.7,52.7],[0.2,53],[-0.2,54.4],[-1.6,55.5],[-3,56],[-2,57.6],[-4,57.7],[-3,58.6],[-5,58.6],[-6.2,57.5],[-5.5,56],[-5,54.8],[-3.2,54.9],[-3,53.4],[-4.6,53.3],[-4.2,52.4],[-5.2,51.8],[-3.2,51.4]],[[-7.3,55.1],[-6,55.2],[-5.6,54.5],[-6.3,54.1],[-7.5,54.3]]],
  Ireland:[[[-7.3,55.1],[-7.5,54.3],[-6.3,54.1],[-6,53.2],[-6.4,52.2],[-8.5,51.7],[-10,51.7],[-9.3,53.2],[-10,54.2],[-8.5,54.6],[-8.2,55.1]]],
  Norway:[[[5,59],[4.9,61.5],[8,63.5],[11,65],[14,67.7],[18,69.5],[24,71],[28,71],[31,70],[28.5,69],[25.5,69],[22,69],[20,69],[18,68.5],[15,66],[14,65],[12,63],[12.2,61],[12.3,59],[11,59],[8,58],[5.5,58.7]],[[10.8,79.5],[16,80],[27,80],[22,78],[17,76.7],[13,78]]],
  Sweden:[[[11,59],[12.3,59],[12.2,61],[12,63],[14,65],[15,66],[18,68.5],[20,69],[23.7,67.9],[24,66],[22,65.5],[21,64],[17.5,62],[17.3,60.6],[18.8,59.8],[16.5,58],[16.4,56.7],[14.5,56],[13,55.4],[12.5,56.3],[11.3,58.5]]],
  Finland:[[[20,69],[22,69],[25.5,69],[28.5,69],[29,67],[30,65],[31.5,62.9],[27.8,60.5],[23,59.9],[21.3,61],[21.5,63],[25,65],[24,66],[23.7,67.9]]],
  Poland:[[[14.2,53.9],[18.5,54.8],[19.7,54.4],[23,54.3],[23.7,52.6],[23.7,51.6],[24,50.5],[22.7,49.2],[18.8,49.5],[15,51],[14.7,52]]],
  Czechia:[[[12.2,50.3],[15,51],[18.8,49.5],[17,48.7],[15,49],[13.8,48.7]]],
  Slovakia:[[[18.8,49.5],[22.7,49.2],[22.1,48.4],[18,47.8],[17,48.7]]],
  Austria:[[[9.6,47.5],[13,47.5],[13.8,48.7],[15,49],[17,48.7],[16.2,46.9],[13.7,46.5],[12.3,47.1],[10.4,46.8]]],
  Hungary:[[[16.2,46.9],[17,48],[18,47.8],[22.1,48.4],[21,46.2],[18.8,45.9],[16.6,46.4]]],
  Slovenia:[[[13.7,46.5],[16.2,46.9],[16.6,46.4],[15.3,45.6],[13.7,45.5]]],
  Serbia:[[[18.8,45.9],[21,46.2],[22.6,44.3],[22.4,42.3],[20.5,42.2],[19.3,43.6],[19,45]]],
  Romania:[[[21,46.2],[22.1,48.4],[23,48],[26.6,48.2],[28.2,46],[28.2,45.4],[29.7,45.2],[28.6,43.7],[25,43.7],[22.6,44.3]]],
  Greece:[[[20,39.7],[20.9,40.9],[23,41.3],[26.3,41.7],[26,40.9],[23.5,40.3],[22.7,40],[23.2,39],[24,38],[23,37.5],[23,36.5],[21.7,36.8],[21.2,38.3]],[[23.6,35.5],[26.2,35.3],[24.7,34.9]]],
  Turkey:[[[26.3,41.7],[28,42],[29,41.2],[31.3,41.2],[33.5,42],[36,41.3],[38.5,41],[41.5,41.5],[43.4,41],[44.8,39.7],[44.4,37.2],[42.4,37.1],[36.7,36.8],[36,36],[34,36.3],[32.5,36],[30.6,36.8],[28,36.7],[26.5,38.5],[26.2,40],[29,40.5],[28,41]]],
  Cyprus:[[[32.3,35],[34.5,35.6],[33.5,34.7]]],
  Lithuania:[[[21,55.3],[21,56.1],[25,56.3],[26.7,55.6],[25.5,54.3],[23,54.3]]],
  Israel:[[[34.3,31.3],[35,33],[35.7,32.7],[35.5,31.5],[35,29.5]]],
  Egypt:[[[25,31.7],[29,31],[34.3,31.3],[34.9,29.5],[34.3,27.8],[32.7,29.8],[34,26.5],[37,22],[25,22]]],
  SaudiArabia:[[[35,29.5],[34.6,28],[37,25],[39,21],[42,16.5],[43,16.6],[43.5,17.4],[47,17],[52,19],[55,20],[55.5,22],[52,23],[51.6,24.5],[50.2,26],[48.5,28.5],[46.5,29.1],[44,29.2],[39,32],[37.5,30]]],
  Iran:[[[44.8,39.7],[46.5,39],[48,39.6],[48.9,38.5],[49,37.5],[53.5,36.8],[56,38],[61,36.5],[61,35.6],[61,31],[62,29.5],[61,29],[61.7,25],[57.5,25.7],[56.5,27],[53,26.7],[51,28],[49,30.3],[48,30],[46,33],[45.5,35.5],[44.4,37.2]]],
  Pakistan:[[[74.8,37.2],[71.5,36],[71,34],[69.3,32.8],[66.5,31],[62,29.5],[61,29],[61.7,25],[66.5,25.4],[67.5,24],[68.5,23.8],[71,24.5],[70,27],[73,29.5],[75,32.5],[73.8,34.5],[77.8,35.5]]],
  India:[[[73.8,34.5],[77.8,35.5],[78.8,31.3],[81,30.2],[80,28.8],[83,27.4],[88,26.4],[88.2,27.3],[88.9,27.3],[88.9,26.8],[92,26.8],[92,27.8],[97,28.3],[95,25.5],[93.5,22],[92.4,21],[91.5,24],[92.3,25],[90,25.2],[88.5,26.3],[88,24.5],[89,22],[87,21.3],[85,19.5],[80.5,16],[80,13.5],[80,11],[78,8.9],[77.5,8],[76.3,10],[74.8,13],[73,18],[72.7,21],[70.5,20.8],[69,22.3],[70,23],[68.5,23.8],[71,24.5],[70,27],[73,29.5],[75,32.5]]],
  China:[[[73.6,39.5],[79.8,42],[80.3,45],[82.5,45.3],[83,47],[87.8,49.2],[90.5,45.3],[95.5,44],[96,42.8],[105,41.6],[110,42.8],[112,45],[116,46],[119.9,46.8],[115.8,47.8],[116,49.8],[120,50],[120.5,53.3],[126,52.8],[127.5,49.8],[131,47.7],[134.7,48.3],[131,44.8],[130.7,42.3],[128,41.5],[124.3,40],[121.2,38.8],[122,40.5],[119,39.2],[117.8,38.5],[119,37.2],[122.5,37],[119.3,35],[121.5,32],[121.8,30],[120.5,27.5],[118.5,24.5],[114.5,22.3],[110.5,21],[108,21.5],[106.5,22.5],[103,22.5],[101.5,21.3],[99.5,22],[98,24],[98.7,27.5],[97,28.3],[92,27.8],[88.9,27.3],[86,27.9],[81,30.2],[78.8,31.3],[77.8,35.5],[74.8,37.2]],[[108.7,19.3],[110.5,20],[111,19.5],[109.5,18.2]]],
  SouthKorea:[[[126.5,37.7],[128.3,38.6],[129.4,37],[129.3,35.2],[126.5,34.4],[126.5,36]]],
  Japan:[[[130.9,34],[132.5,35.4],[136,35.8],[137,37.3],[139.5,38.2],[140,40],[141.3,41.5],[142,39.5],[141,37],[140.8,35.5],[139,35],[136.8,34.5],[135.5,33.5],[135,34.6],[132.5,34.2]],[[130,33.5],[131,33.9],[132,32.8],[131,31.2],[130.2,31.3]],[[132.5,33.8],[134.6,34.2],[134,33.3],[132.7,33]],[[140,41.6],[140.4,43.3],[141.7,45.4],[145.3,44],[145,43],[143,42],[141,42.6]]],
  Thailand:[[[100.1,20.3],[101,19.5],[101,17.5],[103,18.2],[104.8,17.4],[105.5,14.5],[102.9,14],[102.6,12],[101,12.7],[100.5,13.5],[100,13.3],[99.2,10],[100.1,8.5],[101,6.8],[102,6.2],[100.9,5.8],[100.2,6.5],[98.7,8],[98.7,10],[98.8,11.7],[98.6,16],[97.5,18.5]]],
  Malaysia:[[[100.2,6.5],[100.9,5.8],[102,6.2],[103.4,4.5],[104.2,1.4],[103.4,1.4],[101,3],[100.3,5.5]],[[109.6,2],[111.3,2.5],[113,3.2],[115,5],[116.8,7],[119,5.3],[117.7,4.2],[115.8,4.3],[114.8,2.3],[113,1.3],[111,1],[109.6,1.5]]],
  Australia:[[[114,-22],[113.5,-26],[115,-31],[115,-34.3],[118,-35],[123.5,-33.9],[129,-31.6],[131.5,-31.5],[134,-32.8],[135.8,-34.8],[137.8,-32.7],[137.5,-35],[139.5,-36],[140.5,-38],[143.5,-38.8],[146.3,-39],[150,-37.5],[151.3,-33.8],[153.5,-29],[153,-25],[149.5,-22.3],[146,-19],[145.5,-15],[143.5,-14],[142.5,-10.8],[141.7,-13],[141,-17],[139.5,-17.5],[135.5,-15],[136.8,-12.3],[132.5,-11.3],[130,-13],[129.5,-15],[127,-14],[125,-15.5],[122.2,-18],[119,-20]],[[144.7,-40.7],[148.3,-40.9],[148,-42.5],[146.8,-43.6],[145.5,-42.8]]],
  NewZealand:[[[172.7,-34.4],[175,-36.5],[178.5,-37.7],[177,-39.5],[175.3,-41.6],[174.8,-39.8],[173.8,-39.3],[174.7,-37.5]],[[172.7,-40.5],[174.3,-41.7],[172.8,-43.8],[171,-45],[169,-46.6],[166.5,-46],[168.3,-44],[171,-42]]],
  SouthAfrica:[[[16.5,-28.6],[20,-28.4],[20,-24.8],[22.5,-26.2],[25,-25.7],[26.5,-24.6],[29,-22.2],[31,-22.4],[32,-24.5],[32.9,-26.8],[32.5,-28.6],[30.5,-31],[27.5,-33.5],[25.7,-34],[20,-34.8],[18.4,-34.2],[18,-32.5]]],
  Russia:[[[31,70],[33,69.4],[41,67.6],[40,66.2],[35,66.5],[33,66.6],[35,64.3],[37,63.9],[38,64.7],[40.5,64.6],[40,66],[44,66.2],[44,68],[46,68],[46,66.9],[53,68.5],[60,69],[61,69.8],[67,68.8],[67,71],[69,73],[72.5,72.8],[73,68.5],[74.5,68.5],[74.5,72.5],[80,72.5],[87,74],[86,75.5],[98,76.2],[104,77.7],[113,74],[110,73.8],[120,73],[128,72.7],[130,71],[140,72.5],[150,71.5],[160,69.7],[170,70],[178,69.3],[180,69],[180,65],[177.5,64.7],[179,62.3],[174,61.7],[170,60],[164,59.9],[163,58],[162,56],[160,53],[157,51],[155.7,56],[156,57.5],[163.2,61],[160,61.7],[155,59.3],[143,59.3],[135.3,54.7],[141,53.2],[140,48.5],[136,45],[133,42.8],[130.7,42.3],[131,44.8],[134.7,48.3],[131,47.7],[127.5,49.8],[126,52.8],[120.5,53.3],[120,50],[116,49.8],[113,49.6],[108,49.5],[106.5,50.3],[102,50.5],[98.5,52],[98,50],[92,50.8],[87.8,49.2],[85,50],[80,51],[77,54],[71,54.5],[69,55.3],[61,54],[61,51],[55,51],[51,51.5],[47,50.3],[47,48.2],[49,46.5],[47.7,45.5],[47,44.5],[48.5,41.8],[46.5,41.9],[43.5,42.6],[40,43.4],[37,45],[38.2,47.2],[40,49.6],[35.5,50.4],[33,52.3],[31.8,53],[31,55],[28.2,56.1],[27.5,57.6],[28,59.4],[30,60],[27.8,60.5],[31.5,62.9],[30,65],[29,67],[28.5,69]],
    [[-180,69],[-175,67.6],[-170,66],[-172.5,64.5],[-176,65],[-179,65.2],[-180,65]],
    [[142,54.3],[143.5,49],[142.5,46],[142,50]],
    [[51.5,71.5],[57,70.7],[57,73],[68,76.8],[60,76],[54,73]],
    [[91,79.5],[96,81],[105,79],[100,78]],[[45,80.7],[51,80.8],[48,80]],[[137,75.5],[143,76],[150,75],[144,74.8]],
    [[-180,71.5],[-178,71.2],[-180,70.9]],[[178.5,71.2],[180,71.5],[180,70.9]]],
  Lesotho:[[[27.2,-30],[29,-28.8],[29.3,-29.7],[28,-30.6]]]
};

// small ocean islands, drawn as dots
const islandLons = [-159.5,-157.5,-171.5,-174,-155.3,-140.3,-139,-151.8,-172.1,-177,-179,-151.5,-145.8,-141,-137,-170,-174,-175,-159.5,-138.5,-130,-64.9,-14.4,-5.7,-26.6,-24,-23.5,-7,73.5,57.5,44,145.5,145.7,151.8,163,173,176,179,-161,-158,-157,-163];
const islandLats = [3.9,1.9,-3,-4.7,-4.7,-9.1,-10.3,-11.5,-13.9,-14.3,-16.4,-17,-16.5,-18.5,-18.7,-19.2,-18.7,-21.3,-21.3,-21,-24.5,32.2,-8,-16,-59,16,15,61.8,-53,-20.4,-12,18,13.5,7,6,1,-6,-9,22,21.3,20.9,23];

const svg = d3.select("#fig");

function label(g, x, y, txt, size, opts) {
  opts = opts || {};
  return g.append("text")
    .attr("transform", opts.rotate ? `translate(${x},${y}) rotate(${opts.rotate})` : `translate(${x},${y})`)
    .attr("text-anchor", opts.anchor || "start")
    .attr("font-size", size)
    .attr("font-weight", opts.weight || "normal")
    .attr("font-style", opts.style || "normal")
    .attr("fill", opts.fill || "#000")
    .text(txt);
}

label(svg, 0, 24, "A", 27, {weight: "bold"});
label(svg, 913, 24, "B", 27, {weight: "bold"});
label(svg, 0, 780, "C", 27, {weight: "bold"});

// ---- A: stacked bars
const a = svg.append("g");
const xDocs = d3.scaleLinear().domain([0, 1000]).range([204.6, 706.4]);
const yCountry = d3.scaleBand().domain(countries).range([44.2, 640.6]).paddingInner(0.1).paddingOuter(0.05);

a.selectAll(".minor").data([250, 750, 1250]).enter().append("line")
  .attr("x1", d => xDocs(d)).attr("x2", d => xDocs(d)).attr("y1", 40).attr("y2", 647)
  .attr("stroke", "#f0f0f0").attr("stroke-width", 0.8);
a.selectAll(".major").data([0, 500, 1000]).enter().append("line")
  .attr("x1", d => xDocs(d)).attr("x2", d => xDocs(d)).attr("y1", 40).attr("y2", 647)
  .attr("stroke", "#ebebeb").attr("stroke-width", 1.4);
a.selectAll(".hgrid").data(countries).enter().append("line")
  .attr("x1", 172).attr("x2", 909)
  .attr("y1", d => yCountry(d) + yCountry.bandwidth() / 2).attr("y2", d => yCountry(d) + yCountry.bandwidth() / 2)
  .attr("stroke", "#ebebeb").attr("stroke-width", 1.4);

a.selectAll(".scp").data(countries).enter().append("rect")
  .attr("x", xDocs(0)).attr("y", d => yCountry(d))
  .attr("width", (d, i) => xDocs(scpDocs[i]) - xDocs(0)).attr("height", yCountry.bandwidth())
  .attr("fill", "#1abdc2");
a.selectAll(".mcp").data(countries).enter().append("rect")
  .attr("x", (d, i) => xDocs(scpDocs[i])).attr("y", d => yCountry(d))
  .attr("width", (d, i) => xDocs(scpDocs[i] + mcpDocs[i]) - xDocs(scpDocs[i])).attr("height", yCountry.bandwidth())
  .attr("fill", "#f6766e");

const axA = a.append("g").attr("transform", "translate(0,654)")
  .call(d3.axisBottom(xDocs).tickValues([0, 500, 1000]).tickFormat(d3.format("d")).tickSize(0).tickPadding(0));
axA.select(".domain").remove();
axA.selectAll("text").attr("font-size", 15).attr("font-family", null).attr("fill", "#4d4d4d").attr("dy", "0.71em");
const ayA = a.append("g").attr("transform", "translate(162,0)")
  .call(d3.axisLeft(yCountry).tickSize(0).tickPadding(0));
ayA.select(".domain").remove();
ayA.selectAll("text").attr("font-size", 15.5).attr("font-family", null).attr("fill", "#4d4d4d");

label(a, 171, 24, "Most Productive Countries", 22.6);
label(a, 540, 688, "N. of Documents", 19.3, {anchor: "middle"});
label(a, 540, 713, "SCP: Single Country Publications, MCP: Multiple Country Publications", 15.7, {anchor: "middle", style: "italic", fill: "#3a45a8"});
label(a, 18, 343, "Countries", 19, {anchor: "middle", rotate: -90});

label(a, 783, 526, "Collaboration", 17);
const legendNames = ["SCP", "MCP"];
const legendColors = ["#1abdc2", "#f6766e"];
const yLegend = d3.scaleBand().domain(legendNames).range([539.5, 592]).paddingInner(0.05);
a.selectAll(".key").data(legendNames).enter().append("rect")
  .attr("x", 784).attr("y", d => yLegend(d)).attr("width", 24).attr("height", yLegend.bandwidth())
  .attr("fill", (d, i) => legendColors[i]);
a.selectAll(".keytxt").data(legendNames).enter().append("text")
  .attr("x", 818.5).attr("y", d => yLegend(d) + yLegend.bandwidth() / 2).attr("dy", "0.35em")
  .attr("font-size", 13.5).attr("fill", "#222").text(d => d);

// ---- B: yearly publications
const b = svg.append("g");
const xYear = d3.scaleBand().domain(years).range([1047.3, 1905.8]).paddingInner(0.15).paddingOuter(0);
const yPubs = d3.scaleLinear().domain([0, 1000]).range([557.7, 102.8]);

b.selectAll(".bar").data(years).enter().append("rect")
  .attr("x", d => xYear(d)).attr("y", (d, i) => yPubs(pubs[i]))
  .attr("width", xYear.bandwidth()).attr("height", (d, i) => yPubs(0) - yPubs(pubs[i]))
  .attr("fill", "steelblue").attr("stroke", "#111").attr("stroke-width", 1.4);
b.selectAll(".val").data(years).enter().append("text")
  .attr("x", d => xYear(d) + xYear.bandwidth() / 2).attr("y", (d, i) => yPubs(pubs[i]) - 13)
  .attr("text-anchor", "middle").attr("font-size", 16).text((d, i) => pubs[i]);

const ayB = b.append("g").attr("transform", "translate(1013.7,0)")
  .call(d3.axisLeft(yPubs).tickValues([0, 200, 400, 600, 800, 1000]).tickFormat(d3.format("d")).tickSize(13.5).tickPadding(0).tickSizeOuter(0));
ayB.selectAll("path,line").attr("stroke", "#333").attr("stroke-width", 1.3);
ayB.selectAll("text").attr("font-size", 19).attr("font-family", null).attr("fill", "#111")
  .attr("x", null).attr("dy", null).attr("text-anchor", "middle")
  .attr("transform", "translate(-31,0) rotate(-90)");
const axB = b.append("g").attr("transform", "translate(0,587.5)")
  .call(d3.axisBottom(xYear).tickValues(years.filter(y => y % 2 === 0)).tickSize(0).tickPadding(0));
axB.select(".domain").remove();
axB.selectAll("text").attr("font-size", 20.5).attr("font-family", null).attr("fill", "#111").attr("dy", "0.71em");

label(b, 1476, 653, "Year", 20.5, {anchor: "middle", weight: "bold"});
label(b, 931, 308, "Number of Publications", 21, {anchor: "middle", weight: "bold", rotate: -90});

// ---- C: world map
const color = d3.scaleLinear().domain(rampValues).range(rampColors).clamp(true);
const xLon = d3.scaleLinear().domain([-180, 180]).range([94, 1817]);
const yLat = d3.scaleLinear().domain([0, 60]).range([1196, 908.8]);

svg.append("defs").append("clipPath").attr("id", "mapclip")
  .append("rect").attr("x", 94).attr("y", 790).attr("width", 1723).attr("height", 725);
const map = svg.append("g").attr("clip-path", "url(#mapclip)");

const ringPath = d3.line().x(d => xLon(d[0])).y(d => yLat(d[1])).curve(d3.curveLinearClosed);
const names = Object.keys(countryShapes);

map.selectAll(".country").data(names).enter().append("path")
  .attr("d", n => countryShapes[n].map(ringPath).join(""))
  .attr("fill", n => countryValues[n] ? color(countryValues[n]) : "#fff")
  .attr("stroke", "#bdbdbd").attr("stroke-width", 1.1).attr("stroke-linejoin", "round");

map.selectAll(".islet").data(islandLons).enter().append("circle")
  .attr("cx", d => xLon(d)).attr("cy", (d, i) => yLat(islandLats[i])).attr("r", 0.9)
  .attr("fill", "#bdbdbd");

// ---- colour key
const key = svg.append("g");
const xKey = d3.scaleLinear().domain([4, 1337]).range([212, 1765]);
key.selectAll(".ramp").data(d3.range(4, 1337)).enter().append("rect")
  .attr("x", d => xKey(d)).attr("y", 1551).attr("width", xKey(2) - xKey(0)).attr("height", 23)
  .attr("fill", d => color(d));
key.append("line").attr("x1", 212).attr("x2", 1765).attr("y1", 1551).attr("y2", 1551).attr("stroke", "#333").attr("stroke-width", 1);
key.append("line").attr("x1", 212).attr("x2", 1765).attr("y1", 1574).attr("y2", 1574).attr("stroke", "#000").attr("stroke-width", 2);
key.selectAll(".end").data([4, 1337]).enter().append("line")
  .attr("x1", d => xKey(d)).attr("x2", d => xKey(d)).attr("y1", 1551).attr("y2", 1596)
  .attr("stroke", "#222").attr("stroke-width", 1.6);
key.selectAll(".endtxt").data([4, 1337]).enter().append("text")
  .attr("x", d => xKey(d)).attr("y", 1649).attr("text-anchor", "middle").attr("font-size", 36).attr("fill", "#111").text(d => d);
</script>
</body>
</html>
